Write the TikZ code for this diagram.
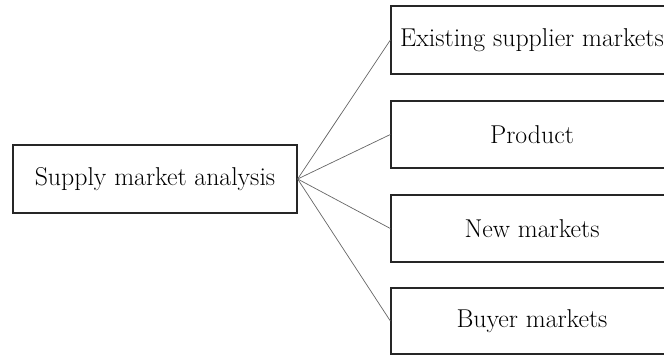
\documentclass[tikz,border=0pt]{standalone}
\begin{document}
\begin{tikzpicture}[x=1pt,y=-1pt,
  box/.style={draw=black!85, line width=1.3pt, rectangle, inner sep=0pt,
    font=\fontsize{25.8}{30}\selectfont, align=center},
  link/.style={draw=black!60, line width=0.7pt}]
  \clip (0,0) rectangle (664,356);
  \useasboundingbox (0,0) rectangle (664,356);

  % root box
  \node[box, minimum width=284pt, minimum height=68pt] (root) at (155,179) {Supply market analysis};

  % branch boxes (right edges run off the page)
  \node[box, minimum width=282pt, minimum height=68pt] (b1) at (532,40) {Existing supplier markets};
  \node[box, minimum width=282pt, minimum height=67pt] (b2) at (532,134.5) {Product};
  \node[box, minimum width=282pt, minimum height=67pt] (b3) at (532,228.5) {New markets};
  \node[box, minimum width=282pt, minimum height=66pt] (b4) at (532,321) {Buyer markets};

  % connectors
  \foreach \b in {b1,b2,b3,b4}
    \draw[link] (root.east) -- (\b.west);
\end{tikzpicture}
\end{document}
